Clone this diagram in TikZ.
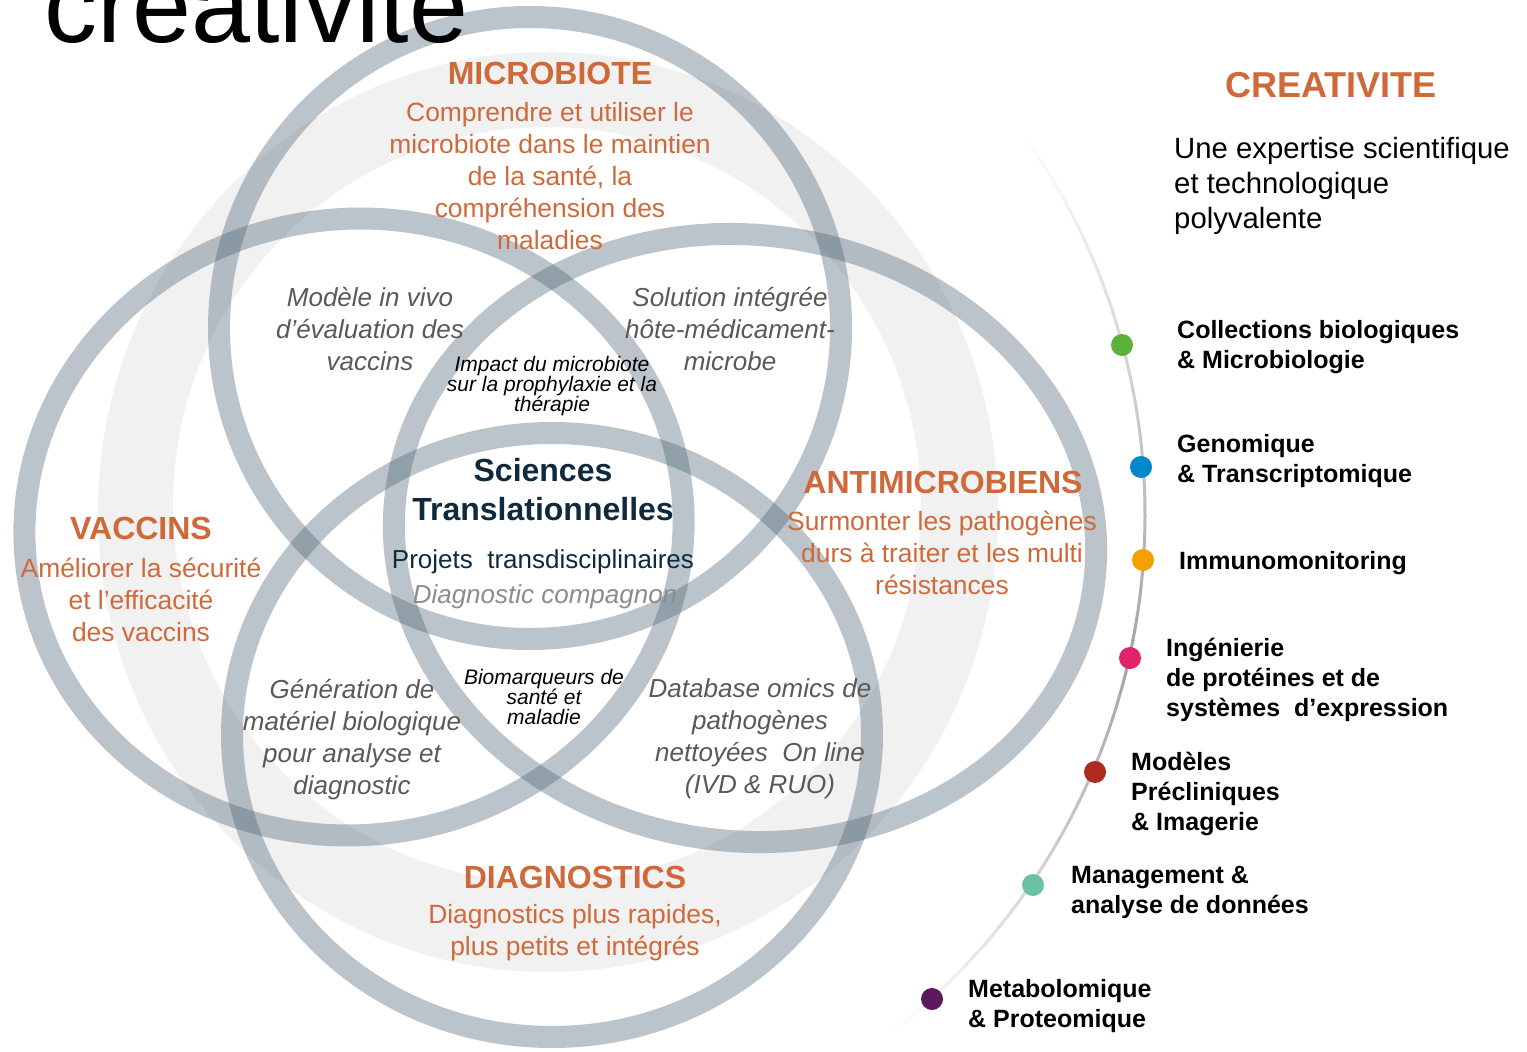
\documentclass[tikz,border=0pt]{standalone}
\usepackage{fontspec}
\setmainfont{Liberation Sans}
\definecolor{orng}{HTML}{D0693A}
\definecolor{ringc}{RGB}{72,96,112}
\definecolor{navy}{HTML}{0E2A3C}
\definecolor{bandc}{HTML}{F1F1F1}
\definecolor{itg}{HTML}{595959}
\definecolor{ltg}{HTML}{8C8C8C}
\definecolor{cgreen}{HTML}{5DB13A}
\definecolor{cblue}{HTML}{0088CF}
\definecolor{corange}{HTML}{F4A000}
\definecolor{cpink}{HTML}{E2226A}
\definecolor{cred}{HTML}{AE2B22}
\definecolor{cteal}{HTML}{6BC1A6}
\definecolor{cpurple}{HTML}{5C195E}
\begin{document}
\begin{tikzpicture}[x=1pt,y=-1pt,
  ring/.style={draw=ringc, draw opacity=0.37, line width=22pt},
  ttl/.style={font=\fontsize{32}{36}\selectfont\bfseries, text=orng, inner sep=0pt},
  dsc/.style={font=\fontsize{26.4}{32}\selectfont, text=orng, align=center, inner sep=0pt},
  itx/.style={font=\fontsize{26}{32}\selectfont\itshape, text=itg, align=center, inner sep=0pt},
  smx/.style={font=\fontsize{21}{20}\selectfont\itshape, text=black, align=center, inner sep=0pt},
  lbl/.style={font=\fontsize{25}{30}\selectfont\bfseries, text=black, align=left, anchor=west, inner sep=0pt},
  dot/.style={circle, inner sep=0pt, minimum size=22pt}]
\fill[white] (0,0) rectangle (1527,1052);
\useasboundingbox (0,0) rectangle (1527,1052);
% light background band
\fill[bandc, even odd rule] (548,512) ellipse [x radius=450, y radius=460] (547,505) ellipse [x radius=374, y radius=378];
% four rings
\draw[ring] (530,328) circle [radius=311];
\draw[ring] (552,735) ellipse [x radius=320, y radius=302];
\draw[ring, rotate around={8:(354,527)}] (354,527) ellipse [x radius=330, y radius=308];
\draw[ring, rotate around={-8:(745,538)}] (745,538) ellipse [x radius=352, y radius=303];
% creativity arc with fading ends
\foreach \a in {-36,...,51} {
  \pgfmathsetmacro\gv{\a<12 ? 36*(\a+36)/48 : 36*(52-\a)/40}
  \draw[black!\gv, line width=3pt] ({490+655*cos(\a)},{515+655*sin(\a)}) arc[start angle=\a, end angle=\a+1.1, radius=655];
}
% dots
\node[dot, fill=cgreen] (d1) at (1122,345) {};
\node[dot, fill=cblue] (d2) at (1141,467) {};
\node[dot, fill=corange] (d3) at (1143,560) {};
\node[dot, fill=cpink] (d4) at (1130,658) {};
\node[dot, fill=cred] (d5) at (1095,772) {};
\node[dot, fill=cteal] (d6) at (1033,885) {};
\node[dot, fill=cpurple] (d7) at (932,999) {};
% texts
\node[anchor=base west, font=\fontsize{106}{106}\selectfont, inner sep=0pt] (big) at (44,42) {creativite};
\node[ttl] (mt) at (550,73) {MICROBIOTE};
\node[dsc] (md) at (550,176) {Comprendre et utiliser le\\microbiote dans le maintien\\de la santé, la\\compréhension des\\maladies};
\node[ttl] (vt) at (141,528) {VACCINS};
\node[dsc] (vd) at (141,600) {Améliorer la sécurité\\et l’efficacité\\des vaccins};
\node[ttl] (at) at (943,482) {ANTIMICROBIENS};
\node[dsc] (ad) at (942,553) {Surmonter les pathogènes\\durs à traiter et les multi\\résistances};
\node[ttl] (dt) at (575,877) {DIAGNOSTICS};
\node[dsc] (dd) at (575,933) {Diagnostics plus rapides,\\plus petits et intégrés};
\node[font=\fontsize{32}{39}\selectfont\bfseries, text=navy, align=center, inner sep=0pt] (st) at (543,490) {Sciences\\Translationnelles};
\node[font=\fontsize{26}{32}\selectfont, text=navy, inner sep=0pt] (pj) at (543,562) {Projets\ \ transdisciplinaires};
\node[font=\fontsize{26}{32}\selectfont\itshape, text=ltg, inner sep=0pt] (dc) at (545,597) {Diagnostic compagnon};
\node[itx] (mv) at (370,329) {Modèle in vivo\\d’évaluation des\\vaccins};
\node[itx] (si) at (730,329) {Solution intégrée\\hôte-médicament-\\microbe};
\node[itx] (gm) at (352,740) {Génération de\\matériel biologique\\pour analyse et\\diagnostic};
\node[itx] (db) at (760,739) {Database omics de\\pathogènes\\nettoyées\ \ On line\\(IVD \& RUO)};
\node[smx] (im) at (552,386) {Impact du microbiote\\sur la prophylaxie et la\\thérapie};
\node[smx] (bm) at (544,697) {Biomarqueurs de\\santé et\\maladie};
\node[font=\fontsize{36}{40}\selectfont\bfseries, text=orng, inner sep=0pt] (ct) at (1331,85) {CREATIVITE};
\node[font=\fontsize{29.3}{35}\selectfont, align=left, anchor=west, inner sep=0pt] (ue) at (1174,186) {Une expertise scientifique\\et technologique\\polyvalente};
\node[lbl] (l1) at (1177,347) {Collections biologiques\\\& Microbiologie};
\node[lbl] (l2) at (1177,461) {Genomique\\\& Transcriptomique};
\node[lbl] (l3) at (1179,563) {Immunomonitoring};
\node[lbl] (l4) at (1166,680) {Ingénierie\\de protéines et de\\systèmes\ \ d’expression};
\node[lbl] (l5) at (1131,794) {Modèles\\Précliniques\\\& Imagerie};
\node[lbl] (l6) at (1071,892) {Management \&\\analyse de données};
\node[lbl] (l7) at (968,1006) {Metabolomique\\\& Proteomique};
\end{tikzpicture}
\end{document}
